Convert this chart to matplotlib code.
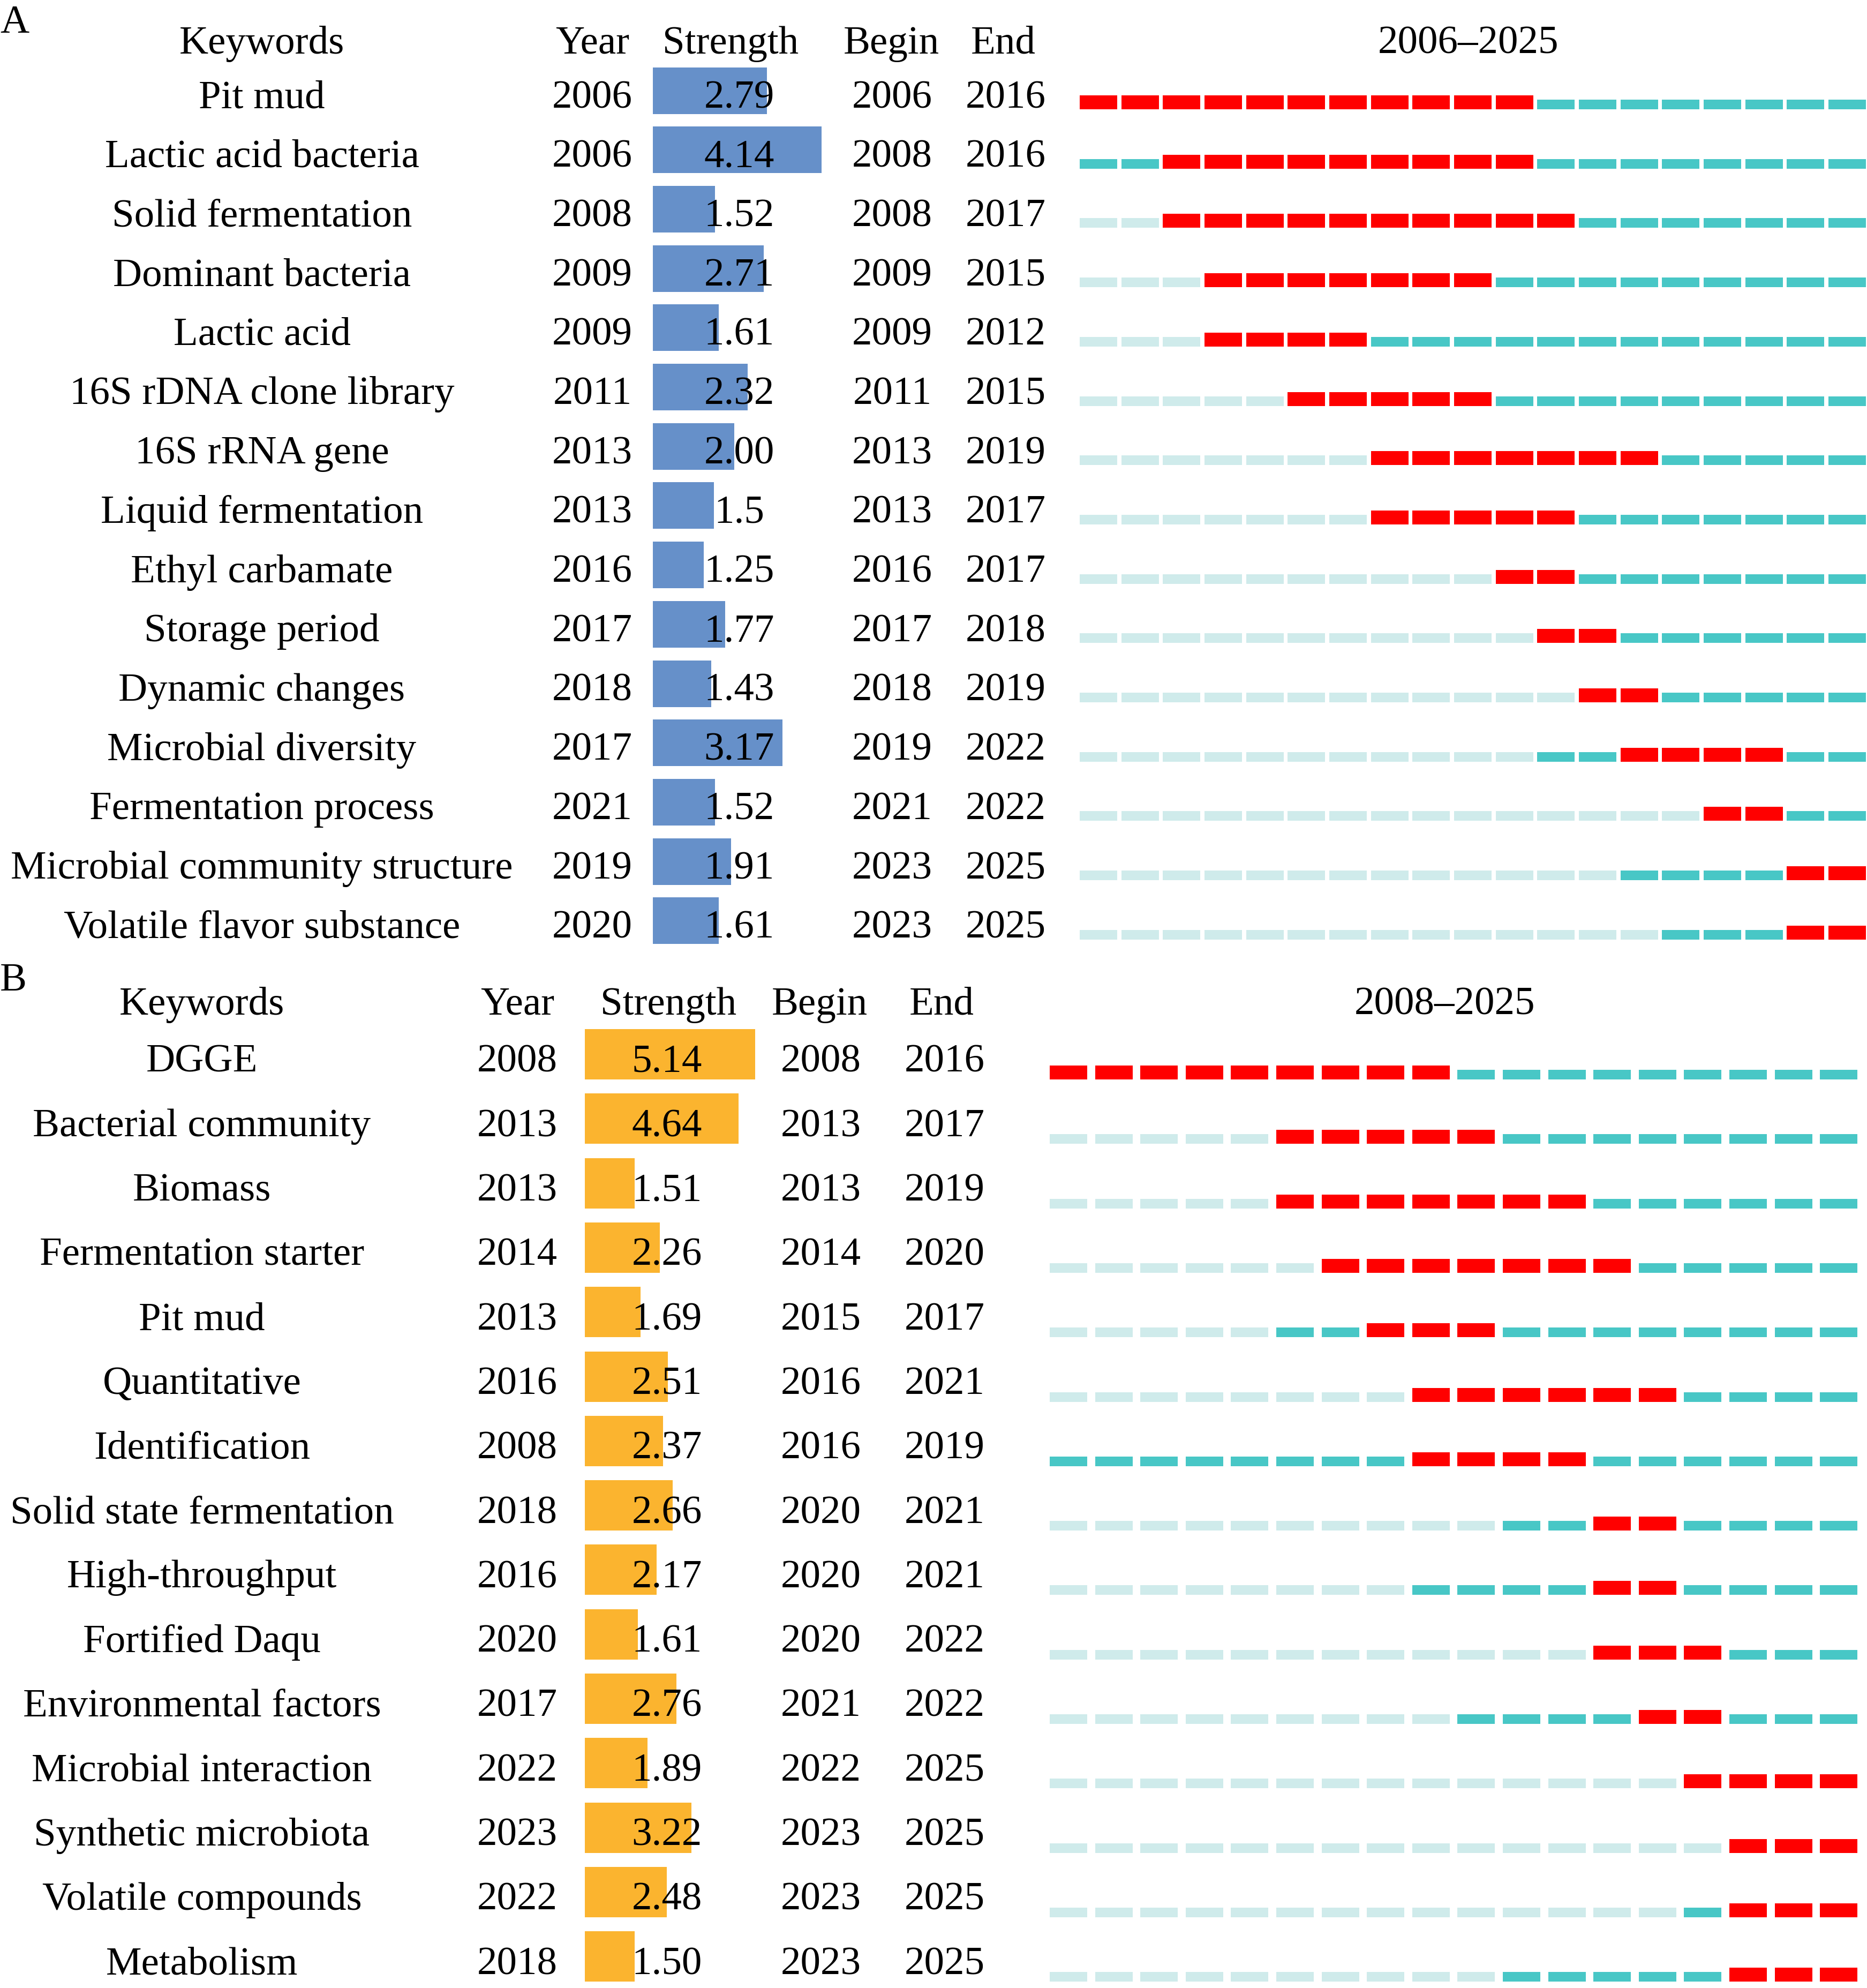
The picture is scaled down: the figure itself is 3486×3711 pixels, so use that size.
import matplotlib
matplotlib.use("Agg")
from matplotlib import pyplot as plt

W, H = 3487, 3712
plt.rcParams['font.family'] = ['Liberation Serif', 'DejaVu Serif']

RED = '#FF0000'
TEAL = '#48C7C6'
LIGHT = '#CFEBEB'

# ---- panel A data
keywords_a = ["Pit mud", "Lactic acid bacteria", "Solid fermentation", "Dominant bacteria",
              "Lactic acid", "16S rDNA clone library", "16S rRNA gene", "Liquid fermentation",
              "Ethyl carbamate", "Storage period", "Dynamic changes", "Microbial diversity",
              "Fermentation process", "Microbial community structure", "Volatile flavor substance"]
year_a = [2006, 2006, 2008, 2009, 2009, 2011, 2013, 2013, 2016, 2017, 2018, 2017, 2021, 2019, 2020]
strength_a = ["2.79", "4.14", "1.52", "2.71", "1.61", "2.32", "2.00", "1.5",
              "1.25", "1.77", "1.43", "3.17", "1.52", "1.91", "1.61"]
begin_a = [2006, 2008, 2008, 2009, 2009, 2011, 2013, 2013, 2016, 2017, 2018, 2019, 2021, 2023, 2023]
end_a = [2016, 2016, 2017, 2015, 2012, 2015, 2019, 2017, 2017, 2018, 2019, 2022, 2022, 2025, 2025]
span_a = (2006, 2025)

# ---- panel B data
keywords_b = ["DGGE", "Bacterial community", "Biomass", "Fermentation starter", "Pit mud",
              "Quantitative", "Identification", "Solid state fermentation", "High-throughput",
              "Fortified Daqu", "Environmental factors", "Microbial interaction",
              "Synthetic microbiota", "Volatile compounds", "Metabolism"]
year_b = [2008, 2013, 2013, 2014, 2013, 2016, 2008, 2018, 2016, 2020, 2017, 2022, 2023, 2022, 2018]
strength_b = ["5.14", "4.64", "1.51", "2.26", "1.69", "2.51", "2.37", "2.66",
              "2.17", "1.61", "2.76", "1.89", "3.22", "2.48", "1.50"]
begin_b = [2008, 2013, 2013, 2014, 2015, 2016, 2016, 2020, 2020, 2020, 2021, 2022, 2023, 2023, 2023]
end_b = [2016, 2017, 2019, 2020, 2017, 2021, 2019, 2021, 2021, 2022, 2022, 2025, 2025, 2025, 2025]
span_b = (2008, 2025)

headers = ["Keywords", "Year", "Strength", "Begin", "End"]

fig = plt.figure(figsize=(W / 100, H / 100), dpi=100)
FS = 54


def ftext(x, y, s, **kw):
    # place text with pixel coords (y from top)
    fig.text(x / W, 1 - y / H, s, fontsize=FS, **kw)


def draw_panel(label, lay, keywords, years, strengths, begins, ends, span, bar_color):
    n = len(keywords)
    y0, sp = lay['y0'], lay['sp']
    top = y0 - 0.5 * sp
    bot = y0 + (n - 0.5) * sp

    ftext(0, lay['label_y'], label, ha='left', va='baseline')
    for hx, h in zip(lay['head_x'], headers):
        ftext(hx, lay['head_y'], h, ha='center', va='baseline')
    ftext(lay['title_x'], lay['head_y'], "%d\u2013%d" % span, ha='center', va='baseline')

    for i in range(n):
        yb = y0 + i * sp + lay['base_off']
        ftext(lay['head_x'][0], yb, keywords[i], ha='center', va='baseline')
        ftext(lay['head_x'][1], yb, str(years[i]), ha='center', va='baseline')
        ftext(lay['val_x'], yb, strengths[i], ha='center', va='baseline', zorder=5)
        ftext(lay['begin_x'], yb, str(begins[i]), ha='center', va='baseline')
        ftext(lay['end_x'], yb, str(ends[i]), ha='center', va='baseline')

    # strength bars
    bw = 420
    ax_s = fig.add_axes([lay['bar_left'] / W, 1 - bot / H, bw / W, (bot - top) / H])
    ax_s.barh(range(n), [float(s) for s in strengths], height=lay['bar_h'],
              color=bar_color, edgecolor='none')
    ax_s.set_xlim(0, bw / lay['unit'])
    ax_s.set_ylim(n - 0.5, -0.5)
    ax_s.axis('off')

    # timeline
    pitch = lay['pitch']
    left = lay['tl_left'] - 0.5 * (pitch - lay['seg'])
    n_years = span[1] - span[0] + 1
    right = min(left + n_years * pitch, W + 1)
    ax_t = fig.add_axes([left / W, 1 - bot / H, (right - left) / W, (bot - top) / H])
    ax_t.set_xlim(span[0] - 0.5, span[0] - 0.5 + (right - left) / pitch)
    ax_t.set_ylim(n - 0.5, -0.5)
    ax_t.axis('off')
    seg_w = lay['seg'] / pitch
    red_h = 26 / sp
    thin_h = 18 / sp
    off = lay['tl_off'] / sp
    for i in range(n):
        for yr in range(span[0], span[1] + 1):
            if begins[i] <= yr <= ends[i]:
                c, h = RED, red_h
            elif yr < years[i]:
                c, h = LIGHT, thin_h
            else:
                c, h = TEAL, thin_h
            ax_t.bar(yr, h, bottom=i + off - h, width=seg_w, color=c, edgecolor='none')


lay_a = dict(y0=170, sp=110.7, base_off=31, label_y=61, head_y=100,
             head_x=[489, 1106, 1364, 1664, 1873], title_x=2742,
             val_x=1380, begin_x=1666, end_x=1878,
             bar_left=1219, unit=76.2, bar_h=87 / 110.7,
             tl_left=2016, pitch=77.67, seg=70, tl_off=35)
lay_b = dict(y0=1969, sp=120.3, base_off=32, label_y=1849, head_y=1894,
             head_x=[377, 966, 1248, 1530, 1758], title_x=2697,
             val_x=1245, begin_x=1533, end_x=1764,
             bar_left=1092, unit=61.8, bar_h=94 / 120.3,
             tl_left=1960, pitch=84.6, seg=70, tl_off=47)

draw_panel("A", lay_a, keywords_a, year_a, strength_a, begin_a, end_a, span_a, '#6690C9')
draw_panel("B", lay_b, keywords_b, year_b, strength_b, begin_b, end_b, span_b, '#FBB42F')

fig.savefig("out.png", dpi=100, facecolor='white')
